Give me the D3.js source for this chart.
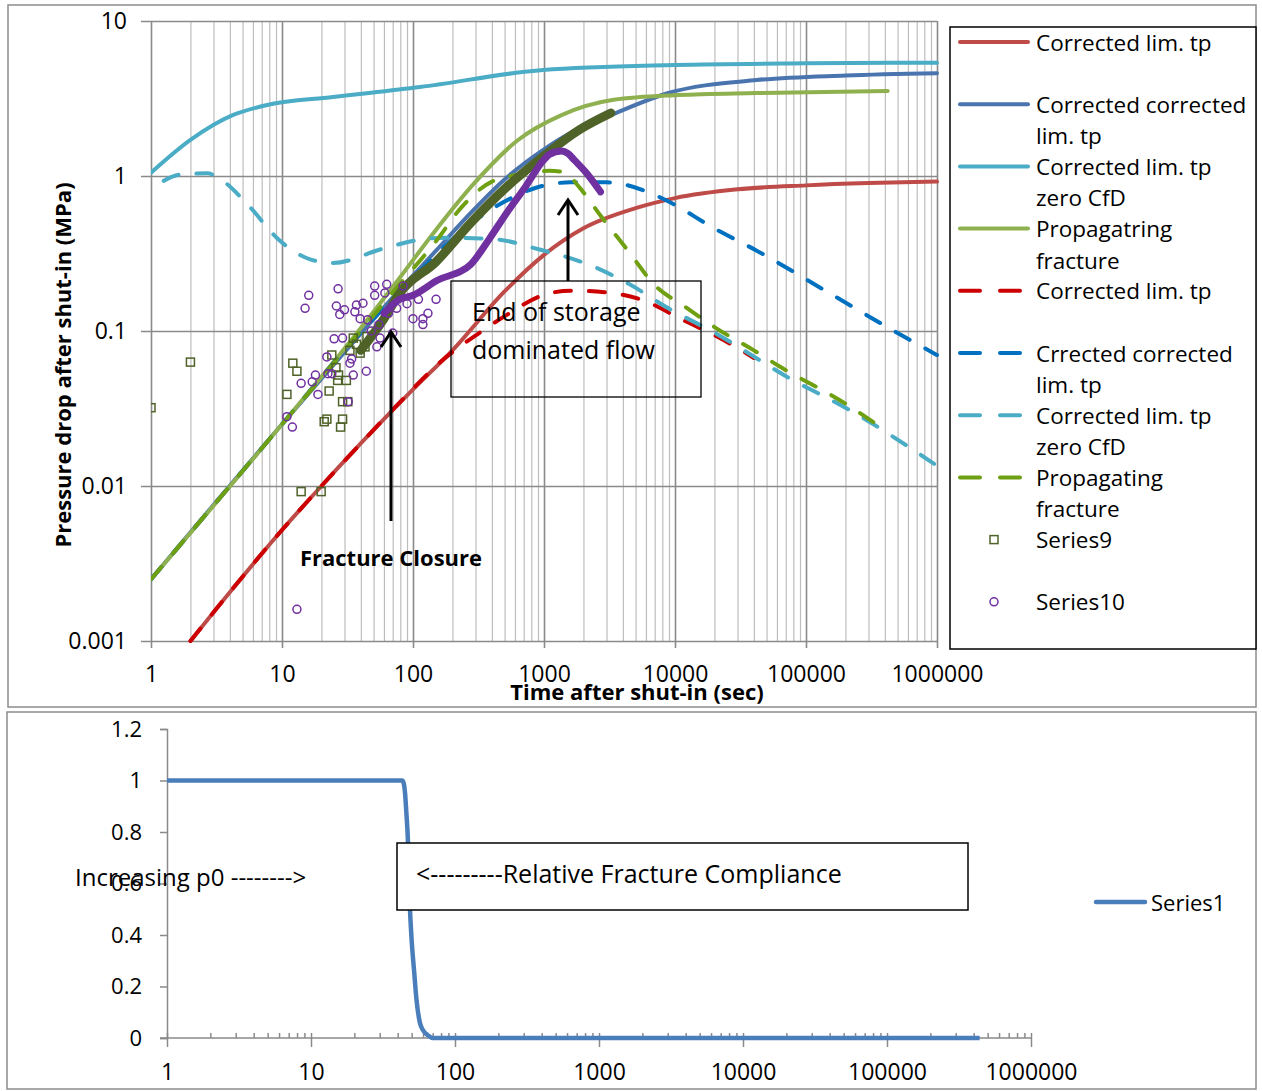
<!DOCTYPE html>
<html>
<head>
<meta charset="utf-8">
<script src="https://cdn.jsdelivr.net/npm/d3@7"></script>
<style>
body { margin: 0; background: #fff; }
text { font-family: "Open Sans", Lato, sans-serif; fill: #000; }
</style>
</head>
<body>
<div id="chart"></div>
<script>

// ---------------- top chart data (time in sec, pressure drop in MPa) ----------------
var tRedSolid = [2, 5, 10, 20, 50, 100, 200, 500, 1000, 2000, 5000, 10000, 30000, 100000, 300000, 1000000];
var pRedSolid = [0.001, 0.0026, 0.0052, 0.0100, 0.023, 0.042, 0.075, 0.18, 0.31, 0.46, 0.62, 0.72, 0.82, 0.87, 0.90, 0.92];

var tBlueSolid = [1, 10, 30, 79, 150, 277, 500, 980, 1800, 3240, 8900, 42000, 200000, 1000000];
var pBlueSolid = [0.0025, 0.025, 0.073, 0.184, 0.33, 0.58, 0.95, 1.47, 2.0, 2.47, 3.43, 4.16, 4.45, 4.6];

var tCyanSolid = [1, 2, 4.2, 7.7, 24.5, 113, 980, 10000, 100000, 1000000];
var pCyanSolid = [1.05, 1.71, 2.47, 2.87, 3.23, 3.75, 4.83, 5.2, 5.33, 5.38];

var tGreenSolid = [1, 10, 30, 79, 150, 277, 630, 1360, 3400, 10600, 42000, 420000];
var pGreenSolid = [0.0025, 0.025, 0.077, 0.22, 0.45, 0.85, 1.7, 2.47, 3.1, 3.33, 3.43, 3.54];

var tRedDash = [2, 5, 10, 20, 50, 96, 158, 337, 520, 980, 1600, 2900, 5700, 11000, 22000, 40000];
var pRedDash = [0.001, 0.0026, 0.0052, 0.0100, 0.023, 0.041, 0.062, 0.10, 0.127, 0.17, 0.182, 0.178, 0.158, 0.12, 0.09, 0.067];

var tBlueDash = [1, 10, 30, 100, 300, 600, 870, 1600, 3000, 6400, 10000, 19000, 42000, 150000, 500000, 1000000];
var pBlueDash = [0.0025, 0.025, 0.075, 0.22, 0.52, 0.74, 0.84, 0.91, 0.91, 0.78, 0.65, 0.47, 0.33, 0.176, 0.097, 0.07];

var tCyanDash = [1.25, 1.66, 2.7, 3.4, 5.7, 9.1, 16.4, 24.5, 59, 107, 178, 430, 870, 2400, 4500, 8900, 19000, 80000, 200000, 1000000];
var pCyanDash = [0.93, 1.02, 1.04, 0.95, 0.63, 0.40, 0.29, 0.275, 0.34, 0.385, 0.40, 0.39, 0.34, 0.26, 0.20, 0.14, 0.10, 0.048, 0.032, 0.0135];

var tGreenDash = [1, 10, 30, 79, 150, 235, 400, 700, 1100, 1430, 1850, 2770, 4500, 6900, 12000, 20000, 40000, 63000, 200000, 370000];
var pGreenDash = [0.0025, 0.025, 0.075, 0.2, 0.38, 0.63, 0.92, 1.03, 1.08, 1.06, 0.85, 0.54, 0.32, 0.2, 0.143, 0.106, 0.075, 0.059, 0.034, 0.024];

// Series9 (squares): scattered early points and the dense run of markers
var tSeries9 = [1, 2, 10.9, 12.1, 13, 14, 19.9, 21, 22, 22.9, 24, 25.8, 26.6, 27, 28, 29, 29, 31, 31.8, 33, 35, 37, 39.5, 43, 44.5];
var pSeries9 = [0.032, 0.063, 0.039, 0.062, 0.055, 0.0092, 0.0092, 0.026, 0.027, 0.041, 0.070, 0.058, 0.048, 0.052, 0.024, 0.035, 0.027, 0.048, 0.035, 0.075, 0.09, 0.082, 0.072, 0.079, 0.092];
var tSeries9Run = [40, 60, 79, 150, 277, 520, 980, 1850, 3240];
var pSeries9Run = [0.075, 0.12, 0.175, 0.28, 0.5, 0.85, 1.33, 1.98, 2.55];

// Series10 (circles)
var tSeries10 = [10.9, 12, 13, 14, 15, 16, 17, 18, 18.8, 22, 22.4, 24, 25, 26, 26.8, 27.6, 29, 30, 32, 33, 34, 35, 36, 37, 39.5, 41.5, 44, 45, 48, 51, 51, 53, 55, 56, 61, 63, 65, 70, 75, 84, 90, 100, 110, 119, 119, 130, 150];
var pSeries10 = [0.028, 0.024, 0.0016, 0.046, 0.14, 0.17, 0.047, 0.052, 0.039, 0.068, 0.053, 0.053, 0.089, 0.145, 0.187, 0.128, 0.09, 0.137, 0.035, 0.062, 0.066, 0.052, 0.133, 0.147, 0.12, 0.151, 0.055, 0.118, 0.1, 0.195, 0.17, 0.079, 0.11, 0.09, 0.176, 0.2, 0.13, 0.097, 0.14, 0.195, 0.15, 0.12, 0.16, 0.12, 0.11, 0.13, 0.16];
var tSeries10Run = [60, 79, 100, 150, 277, 380, 520, 720, 980, 1100, 1360, 1520, 1700, 2100, 2700];
var pSeries10Run = [0.13, 0.16, 0.17, 0.21, 0.27, 0.39, 0.58, 0.85, 1.25, 1.38, 1.45, 1.4, 1.27, 1.05, 0.79];

var xTicksTop = [1, 10, 100, 1000, 10000, 100000, 1000000];
var yTicksTop = [0.001, 0.01, 0.1, 1, 10];
var yTickLabelsTop = ["0.001", "0.01", "0.1", "1", "10"];

var legendLabels = [
    ["Corrected lim. tp"],
    ["Corrected corrected", "lim. tp"],
    ["Corrected lim. tp", "zero CfD"],
    ["Propagatring", "fracture"],
    ["Corrected lim. tp"],
    ["Crrected corrected", "lim. tp"],
    ["Corrected lim. tp", "zero CfD"],
    ["Propagating", "fracture"],
    ["Series9"],
    ["Series10"]
];

// ---------------- bottom chart data ----------------
var tCompliance = [1, 43, 44, 45, 46, 47, 48.5, 50, 52, 54, 57, 60, 65, 70, 100, 1000, 10000, 100000, 440000];
var vCompliance = [1, 1, 0.99, 0.95, 0.87, 0.78, 0.52, 0.38, 0.26, 0.15, 0.06, 0.03, 0.01, 0, 0, 0, 0, 0, 0];
var yTicksBottom = [0, 0.2, 0.4, 0.6, 0.8, 1, 1.2];

var svg = d3.select("#chart").append("svg")
    .attr("width", 1262)
    .attr("height", 1091);

svg.append("rect").attr("width", 1262).attr("height", 1091).attr("fill", "#fff");

// chart frames
svg.append("rect")
    .attr("x", 8).attr("y", 5).attr("width", 1248).attr("height", 702)
    .attr("fill", "none").attr("stroke", "#8c8c8c").attr("stroke-width", 1.5);
svg.append("rect")
    .attr("x", 7).attr("y", 712).attr("width", 1249).attr("height", 377)
    .attr("fill", "none").attr("stroke", "#8c8c8c").attr("stroke-width", 1.5);

/////////////////////////////// TOP CHART ///////////////////////////////
var x = d3.scaleLog().domain([1, 1e6]).range([151, 937]);
var y = d3.scaleLog().domain([0.001, 10]).range([641, 21]);

function isMajor(v) {
    var l = Math.log10(v);
    return Math.abs(l - Math.round(l)) < 1e-9;
}

// vertical grid (minor + major)
var gridX = svg.append("g")
    .attr("transform", "translate(0,641)")
    .call(d3.axisBottom(x).tickValues(x.ticks()).tickSize(-620).tickFormat(""));
gridX.select(".domain").remove();
gridX.selectAll("line")
    .attr("stroke", function(d){ return isMajor(d) ? "#8a8a8a" : "#bdbdbd"; })
    .attr("stroke-width", function(d){ return isMajor(d) ? 1.6 : 1.2; })
    .attr("y2", function(d){ return isMajor(d) ? 7 : 0; })
    .attr("y1", -620);

// horizontal grid at decades
var gridY = svg.append("g")
    .attr("transform", "translate(151,0)")
    .call(d3.axisLeft(y).tickValues(yTicksTop).tickSize(-786).tickFormat(""));
gridY.select(".domain").remove();
gridY.selectAll("line")
    .attr("x1", -10).attr("x2", 786)
    .attr("stroke", "#8a8a8a").attr("stroke-width", 1.6);

// axis labels
var axX = svg.append("g")
    .attr("transform", "translate(0,641)")
    .call(d3.axisBottom(x).tickValues(xTicksTop).tickSize(0).tickPadding(25).tickFormat(d3.format("d")));
axX.select(".domain").remove();
axX.selectAll("text").style("font-size", "23px").style("font-family", "Open Sans");

var axY = svg.append("g")
    .attr("transform", "translate(151,0)")
    .call(d3.axisLeft(y).tickValues(yTicksTop).tickSize(0).tickPadding(24)
        .tickFormat(function(d, i){ return yTickLabelsTop[i]; }));
axY.select(".domain").remove();
axY.selectAll("text").style("font-size", "23px").style("font-family", "Open Sans");

svg.append("text")
    .attr("transform", "translate(62,365) rotate(-90)")
    .attr("text-anchor", "middle")
    .attr("dominant-baseline", "central")
    .style("font-size", "22px").style("font-weight", "700")
    .text("Pressure drop after shut-in (MPa)");

svg.append("text")
    .attr("x", 637).attr("y", 691)
    .attr("text-anchor", "middle")
    .attr("dominant-baseline", "central")
    .style("font-size", "22px").style("font-weight", "700")
    .text("Time after shut-in (sec)");

// curves
svg.append("clipPath").attr("id", "clipTop")
    .append("rect").attr("x", 151).attr("y", 19).attr("width", 790).attr("height", 624);

var plot = svg.append("g").attr("clip-path", "url(#clipTop)");

var line = d3.line()
    .x(function(d){ return x(d[0]); })
    .y(function(d){ return y(d[1]); })
    .curve(d3.curveMonotoneX);

var series = [
    { t: tRedSolid,   p: pRedSolid,   color: "#BE4B48", dash: null },
    { t: tBlueSolid,  p: pBlueSolid,  color: "#4A74AE", dash: null },
    { t: tCyanSolid,  p: pCyanSolid,  color: "#4BACC6", dash: null },
    { t: tGreenSolid, p: pGreenSolid, color: "#8EB04F", dash: null },
    { t: tRedDash,    p: pRedDash,    color: "#CC0000", dash: "16,18" },
    { t: tBlueDash,   p: pBlueDash,   color: "#0070C0", dash: "16,18" },
    { t: tCyanDash,   p: pCyanDash,   color: "#4BACC6", dash: "16,18" },
    { t: tGreenDash,  p: pGreenDash,  color: "#6FA012", dash: "16,18" }
];

series.forEach(function(s){
    plot.append("path")
        .datum(d3.zip(s.t, s.p))
        .attr("d", line)
        .attr("fill", "none")
        .attr("stroke", s.color)
        .attr("stroke-width", 4)
        .attr("stroke-linecap", "round")
        .attr("stroke-dasharray", s.dash);
});

// Series9 - dense run of markers looks like a thick band
plot.append("path")
    .datum(d3.zip(tSeries9Run, pSeries9Run))
    .attr("d", line)
    .attr("fill", "none")
    .attr("stroke", "#4F6228")
    .attr("stroke-width", 9)
    .attr("stroke-linecap", "round");

plot.selectAll(".sq")
    .data(d3.zip(tSeries9, pSeries9))
    .enter().append("rect")
    .attr("class", "sq")
    .attr("x", function(d){ return x(d[0]) - 4; })
    .attr("y", function(d){ return y(d[1]) - 4; })
    .attr("width", 8).attr("height", 8)
    .attr("fill", "none")
    .attr("stroke", "#4F6228")
    .attr("stroke-width", 1.5);

// Series10
plot.append("path")
    .datum(d3.zip(tSeries10Run, pSeries10Run))
    .attr("d", line)
    .attr("fill", "none")
    .attr("stroke", "#7030A0")
    .attr("stroke-width", 7)
    .attr("stroke-linecap", "round");

plot.selectAll(".circ")
    .data(d3.zip(tSeries10, pSeries10))
    .enter().append("circle")
    .attr("class", "circ")
    .attr("cx", function(d){ return x(d[0]); })
    .attr("cy", function(d){ return y(d[1]); })
    .attr("r", 4)
    .attr("fill", "none")
    .attr("stroke", "#7030A0")
    .attr("stroke-width", 1.5);

// annotations
svg.append("rect")
    .attr("x", 451).attr("y", 281).attr("width", 250).attr("height", 116)
    .attr("fill", "none").attr("stroke", "#000").attr("stroke-width", 1.3);
svg.append("text").attr("x", 472).attr("y", 311).attr("dominant-baseline", "central")
    .style("font-size", "25px").text("End of storage");
svg.append("text").attr("x", 472).attr("y", 349).attr("dominant-baseline", "central")
    .style("font-size", "25px").text("dominated flow");

function arrow(xp, y1, y2) {
    svg.append("line")
        .attr("x1", xp).attr("x2", xp).attr("y1", y1).attr("y2", y2 + 2)
        .attr("stroke", "#000").attr("stroke-width", 3);
    svg.append("polyline")
        .attr("points", (xp - 10) + "," + (y2 + 15) + " " + xp + "," + y2 + " " + (xp + 10) + "," + (y2 + 15))
        .attr("fill", "none").attr("stroke", "#000").attr("stroke-width", 3);
}
arrow(391, 521, 332);
arrow(568, 281, 200);

svg.append("text")
    .attr("x", 391).attr("y", 557)
    .attr("text-anchor", "middle").attr("dominant-baseline", "central")
    .style("font-size", "22px").style("font-weight", "700")
    .text("Fracture Closure");

// legend
var legend = svg.append("g");
legend.append("rect")
    .attr("x", 950).attr("y", 27).attr("width", 306).attr("height", 622)
    .attr("fill", "#fff").attr("stroke", "#000").attr("stroke-width", 1.5);

legendLabels.forEach(function(lines, i){
    var ly = 42 + i * 62.2;
    if (i < 8) {
        legend.append("line")
            .attr("x1", 960).attr("x2", 1028).attr("y1", ly).attr("y2", ly)
            .attr("stroke", series[i].color).attr("stroke-width", 4)
            .attr("stroke-linecap", "round")
            .attr("stroke-dasharray", series[i].dash ? "20,20" : null);
    } else if (i == 8) {
        legend.append("rect")
            .attr("x", 990).attr("y", ly - 4).attr("width", 8).attr("height", 8)
            .attr("fill", "none").attr("stroke", "#4F6228").attr("stroke-width", 1.5);
    } else {
        legend.append("circle")
            .attr("cx", 994).attr("cy", ly).attr("r", 4)
            .attr("fill", "none").attr("stroke", "#7030A0").attr("stroke-width", 1.5);
    }
    lines.forEach(function(txt, j){
        legend.append("text")
            .attr("x", 1036).attr("y", ly + j * 31.5)
            .attr("dominant-baseline", "central")
            .style("font-size", "22.5px")
            .text(txt);
    });
});

/////////////////////////////// BOTTOM CHART ///////////////////////////////
var x2 = d3.scaleLog().domain([1, 1e6]).range([167, 1031]);
var y2 = d3.scaleLinear().domain([0, 1.2]).range([1038, 729]);

var ax2Y = svg.append("g")
    .attr("transform", "translate(167,0)")
    .call(d3.axisLeft(y2).tickValues(yTicksBottom).tickSize(7).tickPadding(18)
        .tickFormat(function(d){ return String(+d.toFixed(1)); }));
ax2Y.selectAll("line").attr("stroke", "#8a8a8a").attr("stroke-width", 1.5);
ax2Y.select(".domain").attr("stroke", "#8a8a8a").attr("stroke-width", 1.5);
ax2Y.selectAll("text").style("font-size", "22px").style("font-family", "Open Sans");

// minor ticks point up into the plot
var ax2Minor = svg.append("g")
    .attr("transform", "translate(0,1038)")
    .call(d3.axisTop(x2).tickValues(x2.ticks()).tickSize(5).tickFormat(""));
ax2Minor.select(".domain").remove();
ax2Minor.selectAll("line").attr("stroke", "#8a8a8a").attr("stroke-width", 1.5);

var ax2X = svg.append("g")
    .attr("transform", "translate(0,1038)")
    .call(d3.axisBottom(x2).tickValues(xTicksTop).tickSize(9).tickPadding(17).tickFormat(d3.format("d")));
ax2X.select(".domain").attr("d", "M160,0H1031").attr("stroke", "#8a8a8a").attr("stroke-width", 1.5);
ax2X.selectAll("line").attr("stroke", "#8a8a8a").attr("stroke-width", 1.5);
ax2X.selectAll("text").style("font-size", "23px").style("font-family", "Open Sans");

svg.append("path")
    .datum(d3.zip(tCompliance, vCompliance))
    .attr("d", d3.line()
        .x(function(d){ return x2(d[0]); })
        .y(function(d){ return y2(d[1]); })
        .curve(d3.curveMonotoneX))
    .attr("fill", "none")
    .attr("stroke", "#4A7EBB")
    .attr("stroke-width", 4.5)
    .attr("stroke-linejoin", "round");

svg.append("text")
    .attr("x", 75).attr("y", 876)
    .attr("dominant-baseline", "central")
    .style("font-size", "24px")
    .text("Increasing p0 -------->");

svg.append("rect")
    .attr("x", 397).attr("y", 843).attr("width", 571).attr("height", 67)
    .attr("fill", "#fff").attr("stroke", "#000").attr("stroke-width", 1.5);
svg.append("text")
    .attr("x", 416).attr("y", 873)
    .attr("dominant-baseline", "central")
    .style("font-size", "25px")
    .text("<---------Relative Fracture Compliance");

svg.append("line")
    .attr("x1", 1096).attr("x2", 1145).attr("y1", 902).attr("y2", 902)
    .attr("stroke", "#4A7EBB").attr("stroke-width", 4.5).attr("stroke-linecap", "round");
svg.append("text")
    .attr("x", 1151).attr("y", 902)
    .attr("dominant-baseline", "central")
    .style("font-size", "22px")
    .text("Series1");

</script>
</body>
</html>
